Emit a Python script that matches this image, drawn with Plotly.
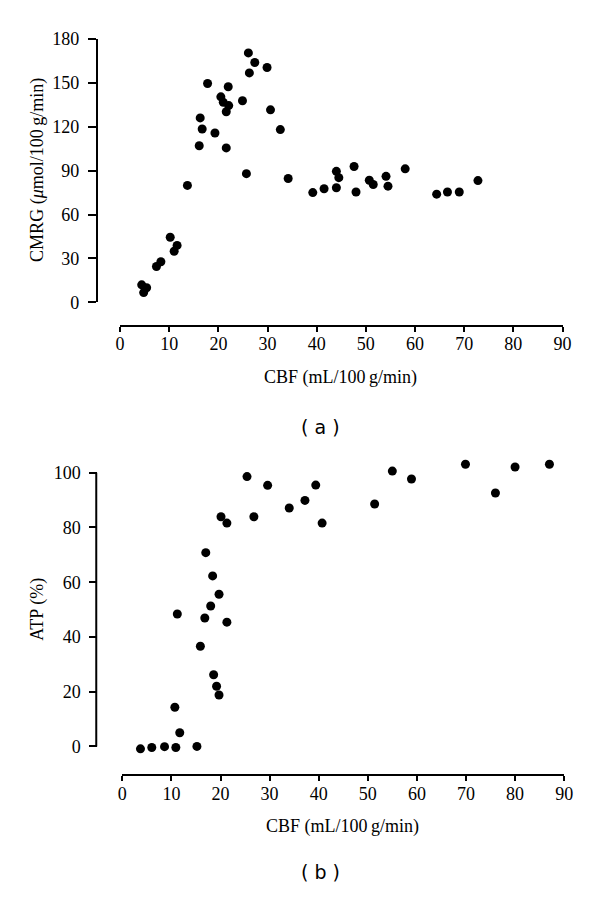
import plotly.graph_objects as go

# Panel (a): CBF vs CMRG
cbf_a = [4.4, 5.4, 4.8, 7.4, 8.3, 10.2, 11.0, 11.6, 13.7, 16.1, 16.3, 16.7, 17.8, 19.3,
         20.5, 21.0, 21.6, 22.1, 22.0, 21.6, 24.9, 25.7, 26.1, 26.3, 27.4, 29.9, 30.6,
         32.6, 34.2, 39.2, 41.5, 44.0, 44.5, 44.0, 47.6, 48.0, 50.7, 51.5, 54.1, 54.5,
         58.0, 64.4, 66.6, 69.0, 72.8]
cmrg_a = [12.0, 10.0, 6.7, 24.5, 27.8, 44.5, 34.9, 38.9, 79.9, 107.0, 126.0, 118.4, 149.5,
          115.7, 140.4, 136.6, 130.2, 134.4, 147.3, 105.5, 137.7, 87.9, 170.4, 156.7,
          163.8, 160.4, 131.5, 118.0, 84.6, 75.0, 77.6, 89.5, 85.2, 78.3, 92.8, 75.4,
          83.4, 80.5, 86.1, 79.4, 91.2, 73.9, 75.4, 75.4, 83.2]

# Panel (b): CBF vs ATP
cbf_b = [3.7, 6.0, 8.6, 10.9, 15.2, 11.7, 10.7, 15.9, 18.6, 19.2, 19.7, 11.2, 16.8, 21.3,
         18.0, 19.7, 18.4, 17.0, 20.1, 21.3, 25.4, 26.8, 29.6, 34.0, 37.2, 39.4, 40.7,
         51.4, 55.0, 58.9, 69.9, 76.0, 80.0, 87.0]
atp_b = [-0.9, -0.4, -0.1, -0.4, 0.0, 5.0, 14.3, 36.6, 26.2, 22.0, 18.8, 48.4, 46.9, 45.4,
         51.3, 55.6, 62.3, 70.8, 83.9, 81.6, 98.6, 83.9, 95.4, 87.1, 89.9, 95.5, 81.6,
         88.6, 100.6, 97.7, 103.1, 92.6, 102.1, 103.1]

x_ticks = list(range(0, 91, 10))
ya_ticks = list(range(0, 181, 30))
yb_ticks = list(range(0, 101, 20))

# the page body has an 8px margin on every side: size the figure to fit exactly
OFF = 8
W, H = 600 - 2 * OFF, 898 - 2 * OFF
SERIF = "Liberation Serif, Times New Roman, serif"
FS = 18

def px(x):
    """screen pixel x -> paper fraction"""
    return (x - OFF) / W

def py(y):
    """screen pixel y -> paper fraction"""
    return 1 - (y - OFF) / H

fig = go.Figure()
marker = dict(color="black", size=9)
fig.add_trace(go.Scatter(x=cbf_a, y=cmrg_a, mode="markers", marker=marker,
                         xaxis="x", yaxis="y", cliponaxis=False, showlegend=False))
fig.add_trace(go.Scatter(x=cbf_b, y=atp_b, mode="markers", marker=marker,
                         xaxis="x2", yaxis="y2", cliponaxis=False, showlegend=False))

axis_common = dict(linecolor="black", linewidth=2, ticks="outside",
                   tickcolor="black", tickwidth=2, showgrid=False, zeroline=False,
                   tickfont=dict(family=SERIF, size=FS, color="black"))

# bottom panel y scale: 2.8 px per unit, 0 at 753.3 px; range padded so that
# points slightly beyond 0..100 stay visible
yb_lo, yb_hi = -4, 107
yb_scale = 2.8
yb_zero = 753.3

fig.update_layout(
    width=W, height=H,
    margin=dict(l=0, r=0, t=0, b=0),
    paper_bgcolor="white", plot_bgcolor="white",
    xaxis=dict(domain=[px(117.7), px(571)], range=[0, 90], tickvals=x_ticks,
               anchor="free", position=py(323), ticklen=5, showline=True,
               ticklabelstandoff=-3, **axis_common),
    yaxis=dict(domain=[py(299), py(29.3)], range=[0, 180], tickvals=ya_ticks,
               anchor="free", position=px(94), ticklen=8, showline=True,
               ticklabelstandoff=5, **axis_common),
    xaxis2=dict(domain=[px(120), px(572.7)], range=[0, 90], tickvals=x_ticks,
                anchor="free", position=py(782.5), ticklen=5, showline=True,
                ticklabelstandoff=-3, **axis_common),
    yaxis2=dict(domain=[py(yb_zero - yb_lo * yb_scale), py(yb_zero - yb_hi * yb_scale)],
                range=[yb_lo, yb_hi], tickvals=yb_ticks,
                anchor="free", position=px(94.3), ticklen=8, showline=False,
                ticklabelstandoff=5, **axis_common),
)

# y axis line of panel (b), spanning 0..100 only
fig.add_shape(type="line", xref="paper", yref="y2", x0=px(93.3), x1=px(93.3),
              y0=0, y1=100, line=dict(color="black", width=2))

ann_font = dict(family=SERIF, size=FS, color="black")
common = dict(xref="paper", yref="paper", showarrow=False, xanchor="center", yanchor="middle")
fig.add_annotation(text="CBF (mL/100\u2009g/min)", x=px(344), y=py(376), font=ann_font, **common)
fig.add_annotation(text="CMRG (<i>\u03bc</i>mol/100\u2009g/min)", x=px(33), y=py(163),
                   textangle=-90, font=ann_font, **common)
fig.add_annotation(text="CBF (mL/100\u2009g/min)", x=px(346), y=py(835), font=ann_font, **common)
fig.add_annotation(text="ATP (%)", x=px(33), y=py(613), textangle=-90, font=ann_font, **common)
lab_font = dict(family="DejaVu Sans, sans-serif", size=19, color="black")
fig.add_annotation(text="( a )", x=px(322.7), y=py(426), font=lab_font, **common)
fig.add_annotation(text="( b )", x=px(322.7), y=py(881.7), font=lab_font, **common)

fig.write_html("out.html")
